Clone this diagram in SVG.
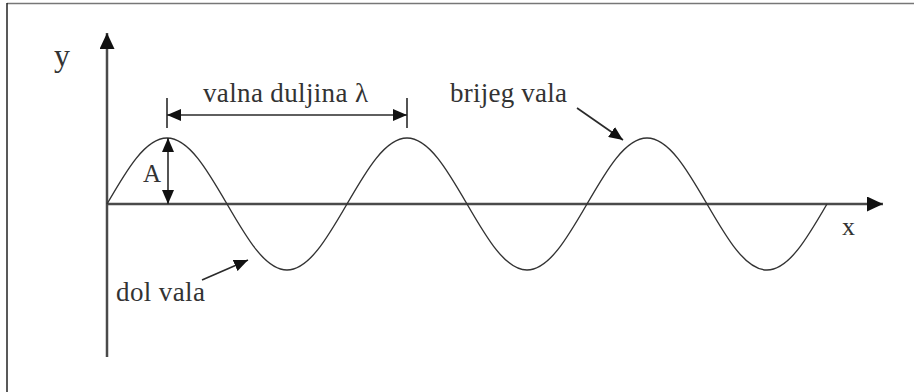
<svg xmlns="http://www.w3.org/2000/svg" width="914" height="392" viewBox="0 0 914 392">
<style>
.t{font-family:"Liberation Serif","Times New Roman",serif;fill:#333}
.ax{stroke:#4a4a4a;stroke-width:2.5;fill:none}
.ln{stroke:#2a2a2a;stroke-width:1.6;fill:none}
.wave{stroke:#333;stroke-width:1.4;fill:none}
</style>
<defs>
<marker id="ah" markerUnits="userSpaceOnUse" markerWidth="14" markerHeight="12" refX="14" refY="6" orient="auto-start-reverse">
<path d="M0,0 L14,6 L0,12 z" fill="#111"/>
</marker>
<marker id="axh" markerUnits="userSpaceOnUse" markerWidth="16" markerHeight="15" refX="16" refY="7.5" orient="auto">
<path d="M0,0 L16,7.5 L0,15 z" fill="#111"/>
</marker>
</defs>
<rect width="914" height="392" fill="#fff"/>
<g id="frame">
<line x1="7" y1="3.5" x2="914" y2="3.5" stroke="#777" stroke-width="1.5"/>
<line x1="7" y1="3" x2="7" y2="392" stroke="#222" stroke-width="1.5"/>
</g>
<g id="axes">
<line class="ax" x1="107" y1="357" x2="107" y2="33" marker-end="url(#axh)"/>
<line class="ax" x1="107" y1="204" x2="883" y2="204" marker-end="url(#axh)"/>
</g>
<g id="wave">
<path class="wave" d="M107,204 c19.57,-33.8 38.29,-66 60,-66 s40.43,32.2 60,66 s38.29,66 60,66 s40.43,-32.2 60,-66 s38.29,-66 60,-66 s40.43,32.2 60,66 s38.29,66 60,66 s40.43,-32.2 60,-66 s38.29,-66 60,-66 s40.43,32.2 60,66 s38.29,66 60,66 s40.43,-32.2 60,-66"/>
</g>
<g id="connectors">
<line class="ln" x1="167" y1="98" x2="167" y2="128"/>
<line class="ln" x1="407" y1="98" x2="407" y2="128"/>
<line class="ln" x1="167" y1="115" x2="407" y2="115" marker-start="url(#ah)" marker-end="url(#ah)"/>
<line class="ln" x1="168" y1="138" x2="168" y2="204" marker-start="url(#ah)" marker-end="url(#ah)"/>
<line class="ln" x1="577" y1="108" x2="623" y2="140" marker-end="url(#ah)"/>
<line class="ln" x1="202" y1="280" x2="248" y2="260" marker-end="url(#ah)"/>
</g>
<g id="label-y"><text class="t" x="54" y="66" font-size="32">y</text></g>
<g id="label-x"><text class="t" x="842" y="235" font-size="26">x</text></g>
<g id="label-A"><text class="t" x="143" y="182" font-size="25">A</text></g>
<g id="label-wavelength"><text class="t" x="203" y="102" font-size="27" textLength="165" lengthAdjust="spacing">valna duljina λ</text></g>
<g id="label-crest"><text class="t" x="450" y="102" font-size="27" textLength="117" lengthAdjust="spacing">brijeg vala</text></g>
<g id="label-trough"><text class="t" x="116" y="301" font-size="27" textLength="89" lengthAdjust="spacing">dol vala</text></g>
</svg>
